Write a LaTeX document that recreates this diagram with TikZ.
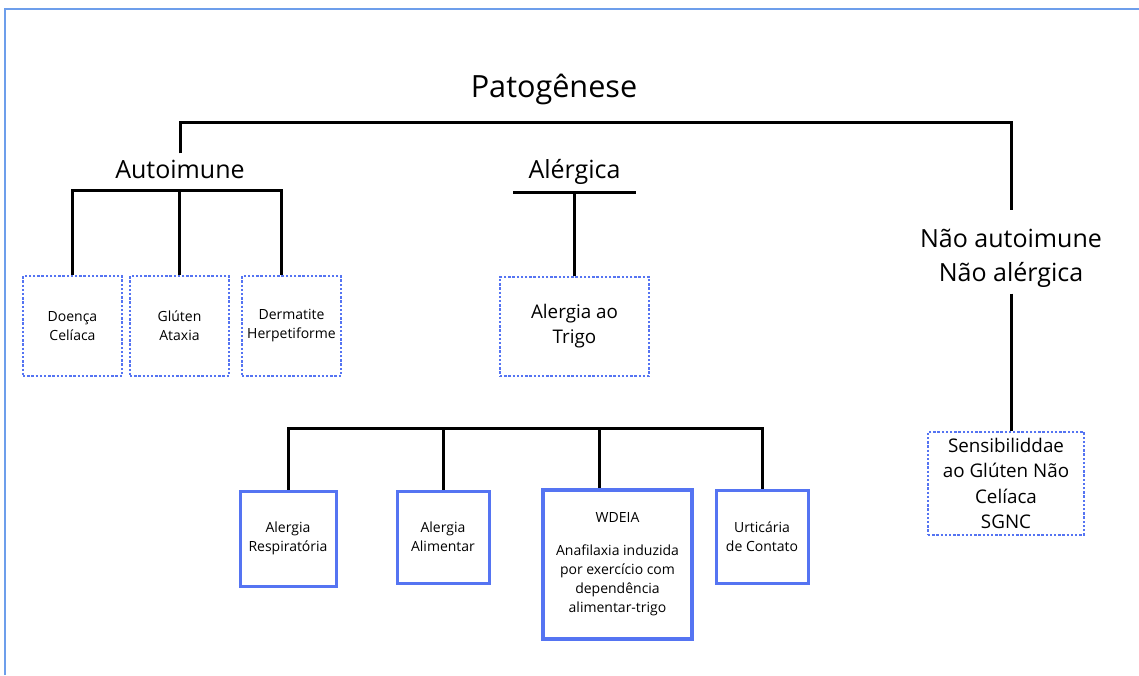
\documentclass[tikz,border=0pt]{standalone}
\usepackage{fontspec}
\setmainfont{Open Sans}
\definecolor{frameblue}{HTML}{6D9EEB}
\definecolor{boxblue}{HTML}{5574F2}

\begin{document}
\begin{tikzpicture}[x=0.5pt,y=-0.5pt,
  head/.style={inner sep=3pt,font=\fontsize{12.5}{17}\selectfont},
  dotbox/.style={draw=boxblue,line width=1.3pt,dash pattern=on 1.2pt off 0.9pt,align=center,inner sep=2pt},
  solidbox/.style={draw=boxblue,line width=1.5pt,align=center,inner sep=2pt},
  small/.style={font=\fontsize{7}{9.5}\selectfont},
  medium/.style={font=\fontsize{9.4}{12.6}\selectfont},
  link/.style={line width=1.5pt}]
\useasboundingbox (0,0) rectangle (1139,675);
\draw[frameblue,line width=1pt] (5,675) -- (5,9) -- (1139,9);

\node[anchor=base,inner sep=3pt,font=\fontsize{15.3}{18}\selectfont] (pato) at (554,97) {Patogênese};
\node[head,anchor=base] (auto) at (180,178) {Autoimune};
\node[head,anchor=base] (alerg) at (574.5,178) {Alérgica};
\node[head,align=center] (nao) at (1011,258) {Não autoimune\\Não alérgica};

\node[dotbox,small,minimum width=49.5pt,minimum height=50pt] (doenca) at (72.5,326) {Doença\\Celíaca};
\node[dotbox,small,minimum width=49.5pt,minimum height=50pt] (gluten) at (179.5,326) {Glúten\\Ataxia};
\node[dotbox,small,minimum width=49.5pt,minimum height=50pt] (derm) at (291.5,326) {Dermatite\\Herpetiforme};
\node[dotbox,medium,minimum width=74.5pt,minimum height=49.5pt] (trigo) at (574.5,326.5) {Alergia ao\\Trigo};
\node[dotbox,medium,minimum width=78pt,minimum height=51.5pt] (sgnc) at (1006,483.5) {Sensibiliddae\\ao Glúten Não\\Celíaca\\SGNC};

\node[solidbox,small,minimum width=48pt,minimum height=47.5pt] (resp) at (288,538.5) {Alergia\\Respiratória};
\node[solidbox,small,minimum width=46pt,minimum height=46pt] (alim) at (443,537) {Alergia\\Alimentar};
\node[solidbox,small,line width=2pt,minimum width=74.5pt,minimum height=74.5pt] (wdeia) at (617.5,564.5) {WDEIA\\[7pt]Anafilaxia induzida\\por exercício com\\dependência\\alimentar-trigo};
\node[solidbox,small,minimum width=46pt,minimum height=46.5pt] (urt) at (762,536.5) {Urticária\\de Contato};

\coordinate (mainbus) at (554,122);
\coordinate (autobus) at (180,190);
\coordinate (alergbar) at (574.5,192);
\coordinate (lowbus) at (520,428);
\coordinate (dermtop) at ([xshift=-5pt]derm.north);
\coordinate (wdeiatop) at ([xshift=-9.25pt]wdeia.north);

\draw[link] (auto.north) |- (mainbus) -| ([yshift=6pt]nao.north);
\draw[link] (doenca.north) |- (dermtop |- autobus) -- (dermtop);
\draw[link] (gluten.north) -- (gluten.north |- autobus);
\draw[link] (alergbar) ++(-61.5,0) -- ++(123,0);
\draw[link] (alergbar) -- (trigo.north);
\draw[link] (nao.south) -- (nao.south |- sgnc.north);
\draw[link] (resp.north) |- (lowbus -| urt.north) -- (urt.north);
\draw[link] (alim.north) -- (alim.north |- lowbus);
\draw[link] (wdeiatop) -- (wdeiatop |- lowbus);
\end{tikzpicture}
\end{document}
